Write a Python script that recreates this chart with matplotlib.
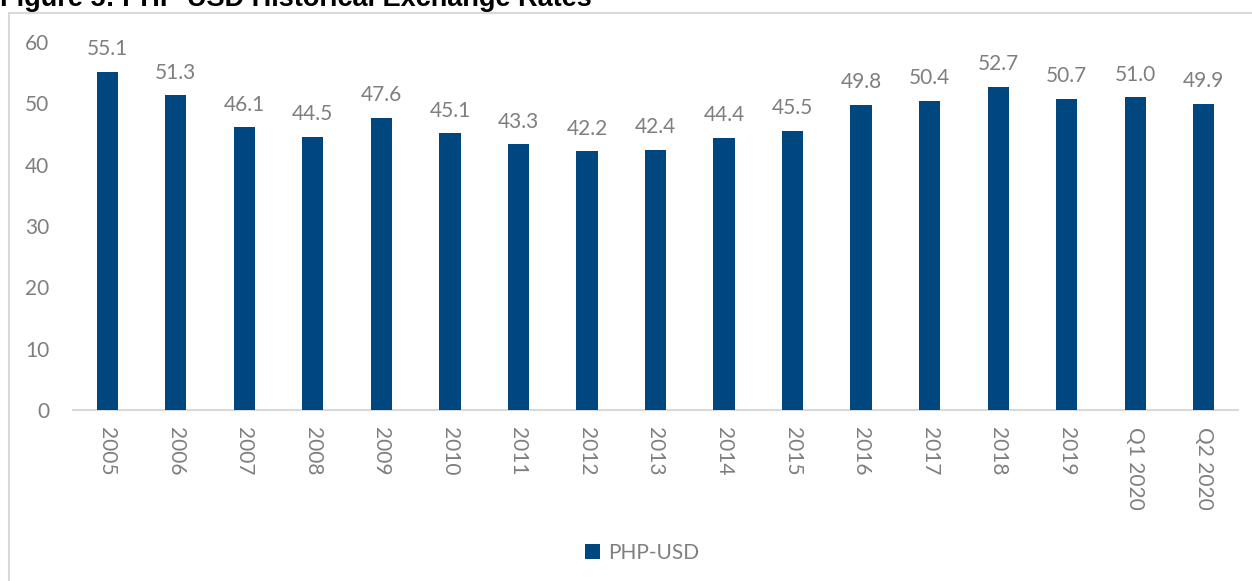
import matplotlib
matplotlib.use("Agg")
import matplotlib.pyplot as plt
from matplotlib.patches import Rectangle, Patch

categories = ["2005", "2006", "2007", "2008", "2009", "2010", "2011", "2012",
              "2013", "2014", "2015", "2016", "2017", "2018", "2019",
              "Q1 2020", "Q2 2020"]
php_usd = [55.1, 51.3, 46.1, 44.5, 47.6, 45.1, 43.3, 42.2,
           42.4, 44.4, 45.5, 49.8, 50.4, 52.7, 50.7, 51.0, 49.9]
series_name = "PHP-USD"
title = "Figure 5: PHP-USD Historical Exchange Rates"

BAR = "#00467F"
GRAY = "#7F7F7F"
LINE = "#D9D9D9"
FONT = "Lato"
FS = 15

W, H, DPI = 1252, 581, 100
fig = plt.figure(figsize=(W / DPI, H / DPI), dpi=DPI)

# chart-area frame (runs past the right and bottom edges)
fig.patches.append(Rectangle((8.5 / W, -0.5), 2.0, 1.5 - 12.5 / H,
                             transform=fig.transFigure, fill=False,
                             edgecolor=LINE, linewidth=1.5, clip_on=False))

fig.text(0.0, 1 - 6 / H, title, fontsize=19.5, fontweight="bold",
         family="Liberation Sans", color="black", ha="left", va="baseline")

ax = fig.add_axes([73 / W, 1 - 410 / H, (1238 - 73) / W, (410 - 42) / H])
x = list(range(len(categories)))
bars = ax.bar(x, php_usd, width=0.31, color=BAR, zorder=3)

for xi, v in zip(x, php_usd):
    ax.annotate(f"{v:.1f}", (xi, v), xytext=(0, 12), textcoords="offset points",
                ha="center", va="baseline", fontsize=FS, family=FONT, color=GRAY)

ax.set_xlim(-0.5, len(categories) - 0.5)
ax.set_ylim(0, 60)
ax.set_yticks(range(0, 61, 10))
ax.set_xticks(x)
ax.set_xticklabels(categories, rotation=-90)
for lab in ax.get_xticklabels() + ax.get_yticklabels():
    lab.set_family(FONT)
    lab.set_fontsize(FS)
    lab.set_color(GRAY)
ax.tick_params(axis="x", length=0, pad=12)
ax.tick_params(axis="y", length=0, pad=17)
for s in ["top", "right", "left"]:
    ax.spines[s].set_visible(False)
ax.spines["bottom"].set_color(LINE)
ax.spines["bottom"].set_linewidth(1.5)
ax.set_facecolor("none")

leg = fig.legend(handles=[Patch(facecolor=BAR, label=series_name)],
                 loc="center", bbox_to_anchor=(642 / W, 1 - 553 / H),
                 frameon=False, handlelength=0.7, handleheight=0.7,
                 handletextpad=0.4, prop={"family": FONT, "size": FS})
for t in leg.get_texts():
    t.set_color(GRAY)

fig.savefig("out.png", dpi=DPI)
